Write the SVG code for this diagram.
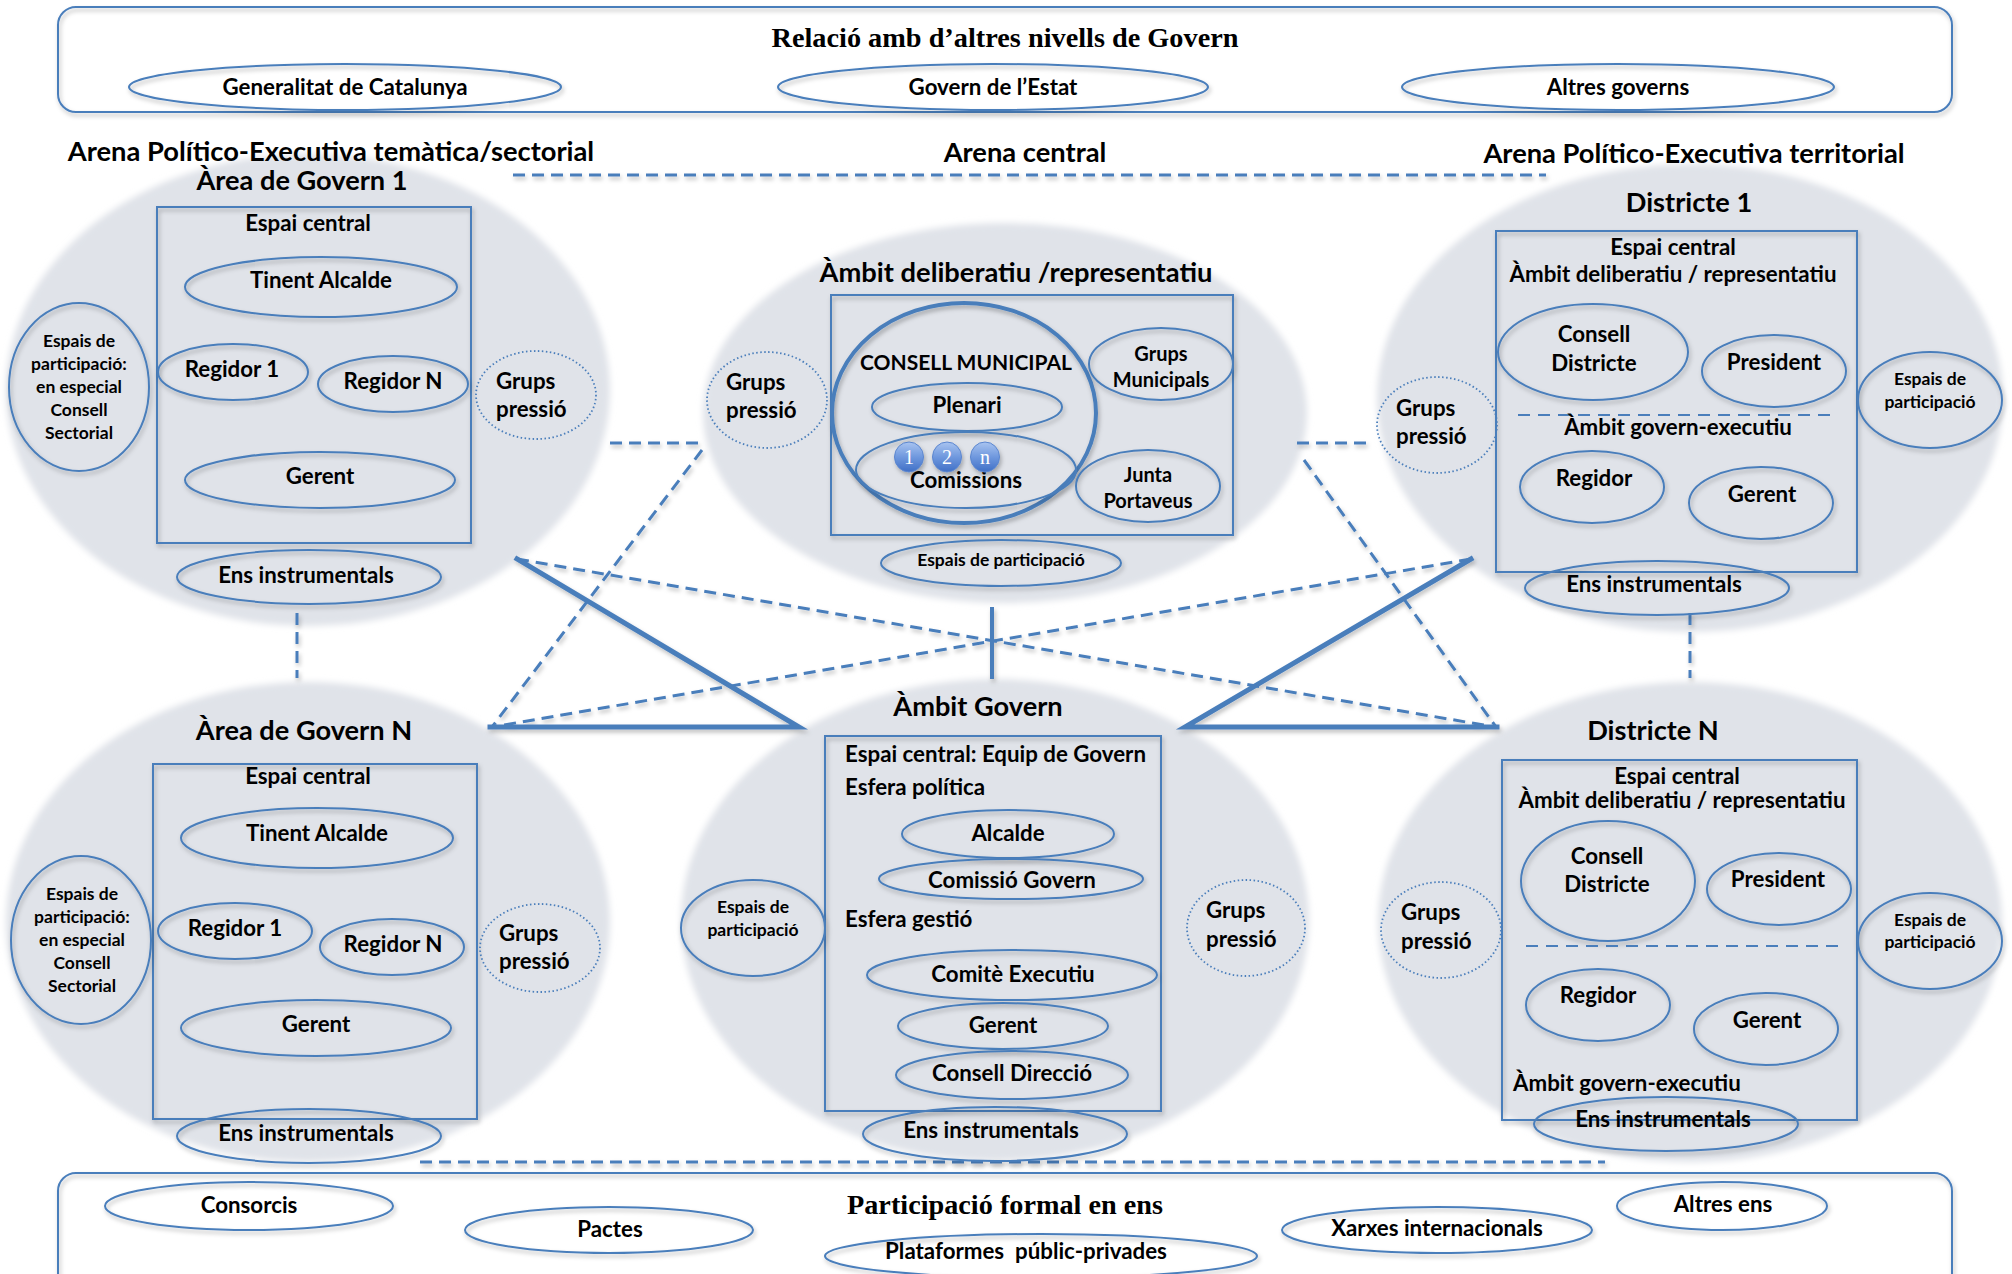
<svg xmlns="http://www.w3.org/2000/svg" width="2012" height="1274" viewBox="0 0 2012 1274">
<defs>
<style>
text{font-family:Lato,'Liberation Sans',sans-serif;font-weight:bold;fill:#000;text-anchor:middle;font-size:22.3px}
.h{font-size:27.2px}
.ha{font-size:27.3px}
.sm{font-size:17.5px}
.md{font-size:20px}
.cmt{font-size:21px}
.lft{text-anchor:start}
.ser{font-family:'Liberation Serif',serif;font-size:27px}
.num{font-family:'Liberation Serif',serif;font-weight:normal;fill:#fff;font-size:20px}
.bg{fill:#e0e3e9;filter:url(#soft)}
.o{fill:none;stroke:#4a7ebb;stroke-width:2;filter:url(#sh)}
.dot{fill:none;stroke:#4a7ebb;stroke-width:1.8;stroke-dasharray:1.5 2.5}
.box{fill:none;stroke:#4a7ebb;stroke-width:2;filter:url(#sh)}
.cm{fill:none;stroke:#4a7ebb;stroke-width:4;filter:url(#sh)}
.dl{stroke:#4a7ebb;stroke-width:2;stroke-dasharray:12 8}
.dash{stroke:#4a7ebb;stroke-width:3;stroke-dasharray:12 7;fill:none}
.thick{stroke:#4a7ebb;stroke-width:5;fill:none;stroke-linecap:square}
</style>
<filter id="sh" x="-10%" y="-15%" width="125%" height="140%">
<feDropShadow dx="1.5" dy="3" stdDeviation="2" flood-color="#000" flood-opacity="0.28"/>
</filter>
<filter id="lsh" filterUnits="userSpaceOnUse" x="0" y="0" width="2012" height="1274">
<feDropShadow dx="1.5" dy="3" stdDeviation="2" flood-color="#000" flood-opacity="0.25"/>
</filter>
<filter id="soft" x="-5%" y="-5%" width="110%" height="110%">
<feGaussianBlur stdDeviation="3"/>
</filter>
<linearGradient id="bub" x1="0" y1="0" x2="0" y2="1">
<stop offset="0" stop-color="#a9c4f0"/>
<stop offset="0.5" stop-color="#6f98de"/>
<stop offset="1" stop-color="#3f6fc6"/>
</linearGradient>
</defs>
<rect width="2012" height="1274" fill="#fff"/>

<!-- background arena circles -->
<g id="arenas">
<ellipse class="bg" cx="308" cy="390" rx="302" ry="236"/>
<ellipse class="bg" cx="1005" cy="413" rx="302" ry="190"/>
<ellipse class="bg" cx="1690" cy="398" rx="313" ry="234"/>
<ellipse class="bg" cx="308" cy="922" rx="302" ry="240"/>
<ellipse class="bg" cx="995" cy="920" rx="314" ry="241"/>
<ellipse class="bg" cx="1690" cy="922" rx="312" ry="240"/>
</g>

<!-- connectors -->
<g id="connectors" filter="url(#lsh)">
<line class="dash" x1="513" y1="175" x2="1546" y2="175"/>
<line class="dash" x1="420" y1="1162" x2="1605" y2="1162"/>
<line class="dash" x1="297" y1="613" x2="297" y2="678"/>
<line class="dash" x1="1690" y1="613" x2="1690" y2="678"/>
<line class="dash" x1="610" y1="443" x2="704" y2="443"/>
<line class="dash" x1="702" y1="450" x2="492" y2="727"/>
<line class="dash" x1="1297" y1="443" x2="1367" y2="443"/>
<line class="dash" x1="1304" y1="460" x2="1496" y2="727"/>
<line class="dash" x1="517" y1="559" x2="1495" y2="727"/>
<line class="dash" x1="1471" y1="559" x2="492" y2="727"/>
<polyline class="thick" points="517,559 799,727 490,727"/>
<polyline class="thick" points="1471,559 1185,727 1497,727"/>
<line stroke="#4a7ebb" stroke-width="4" x1="992" y1="607" x2="992" y2="679"/>
</g>

<!-- top box -->
<g id="relacio">
<rect class="box" x="58" y="7" width="1894" height="105" rx="18"/>
<text class="ser" x="1005" y="47" textLength="467" lengthAdjust="spacingAndGlyphs">Relació amb d’altres nivells de Govern</text>
</g>
<g id="generalitat"><ellipse class="o" cx="345" cy="87" rx="216" ry="23"/><text x="345" y="95">Generalitat de Catalunya</text></g>
<g id="govern-estat"><ellipse class="o" cx="993" cy="87" rx="215" ry="23"/><text x="993" y="95">Govern de l’Estat</text></g>
<g id="altres-governs"><ellipse class="o" cx="1618" cy="87" rx="216" ry="23"/><text x="1618" y="95">Altres governs</text></g>

<!-- headers -->
<g id="headers">
<text class="ha" x="331" y="161">Arena Político-Executiva temàtica/sectorial</text>
<text class="ha" x="1025" y="162">Arena central</text>
<text class="ha" x="1694" y="163">Arena Político-Executiva territorial</text>
</g>

<!-- Area de Govern 1 -->
<g id="area-govern-1">
<text class="h" x="302" y="190">Àrea de Govern 1</text>
<rect class="box" x="157" y="207" width="314" height="336"/>
<text x="308" y="231">Espai central</text>
<ellipse class="o" cx="321" cy="287" rx="136" ry="30"/><text x="321" y="288">Tinent Alcalde</text>
<ellipse class="o" cx="233" cy="372" rx="75" ry="28"/><text x="232" y="377">Regidor 1</text>
<ellipse class="o" cx="393" cy="384" rx="75" ry="28"/><text x="393" y="389">Regidor N</text>
<ellipse class="o" cx="320" cy="480" rx="135" ry="28"/><text x="320" y="484">Gerent</text>
<ellipse class="o" cx="309" cy="577" rx="132" ry="27"/><text x="306" y="583">Ens instrumentals</text>
<ellipse class="dot" cx="536" cy="395" rx="60" ry="44"/><text class="lft" x="496" y="389">Grups</text><text class="lft" x="496" y="417">pressió</text>
<ellipse class="o" cx="79" cy="387" rx="70" ry="84"/>
<text class="sm" x="79" y="347">Espais de</text><text class="sm" x="79" y="370">participació:</text><text class="sm" x="79" y="393">en especial</text><text class="sm" x="79" y="416">Consell</text><text class="sm" x="79" y="439">Sectorial</text>
</g>

<!-- Ambit deliberatiu -->
<g id="ambit-deliberatiu">
<text class="ha" x="1016" y="282">Àmbit deliberatiu /representatiu</text>
<rect class="box" x="831" y="295" width="402" height="240"/>
<ellipse class="cm" cx="964" cy="413" rx="132" ry="110"/>
<text class="cmt" x="966" y="370">CONSELL MUNICIPAL</text>
<ellipse class="o" cx="967" cy="407" rx="95" ry="24"/><text x="967" y="413">Plenari</text>
<ellipse class="o" cx="966" cy="470" rx="110" ry="38"/><text x="966" y="488">Comissions</text>
<g filter="url(#sh)">
<ellipse cx="909" cy="457" rx="14.5" ry="15" fill="url(#bub)" stroke="#5b86cf" stroke-width="1"/>
<ellipse cx="947" cy="457" rx="14.5" ry="15" fill="url(#bub)" stroke="#5b86cf" stroke-width="1"/>
<ellipse cx="985" cy="457" rx="14.5" ry="15" fill="url(#bub)" stroke="#5b86cf" stroke-width="1"/>
</g>
<text class="num" x="909" y="464">1</text><text class="num" x="947" y="464">2</text><text class="num" x="985" y="464">n</text>
<ellipse class="o" cx="1161" cy="364" rx="72" ry="36"/><text class="md" x="1161" y="361">Grups</text><text class="md" x="1161" y="387">Municipals</text>
<ellipse class="o" cx="1148" cy="486" rx="72" ry="36"/><text class="md" x="1148" y="482">Junta</text><text class="md" x="1148" y="508">Portaveus</text>
<ellipse class="dot" cx="767" cy="400" rx="60" ry="48"/><text class="lft" x="726" y="390">Grups</text><text class="lft" x="726" y="418">pressió</text>
<ellipse class="o" cx="1001" cy="563" rx="120" ry="23"/><text class="sm" x="1001" y="566">Espais de participació</text>
</g>

<!-- Districte 1 -->
<g id="districte-1">
<text class="h" x="1689" y="212">Districte 1</text>
<rect class="box" x="1496" y="231" width="361" height="341"/>
<text x="1673" y="255">Espai central</text>
<text x="1673" y="282">Àmbit deliberatiu / representatiu</text>
<ellipse class="o" cx="1593" cy="352" rx="95" ry="48"/><text x="1594" y="342">Consell</text><text x="1594" y="371">Districte</text>
<ellipse class="o" cx="1774" cy="371" rx="72" ry="36"/><text x="1774" y="370">President</text>
<line class="dl" x1="1518" y1="415" x2="1830" y2="415"/>
<text x="1678" y="435">Àmbit govern-executiu</text>
<ellipse class="o" cx="1592" cy="487" rx="72" ry="36"/><text x="1594" y="486">Regidor</text>
<ellipse class="o" cx="1761" cy="503" rx="72" ry="36"/><text x="1762" y="502">Gerent</text>
<ellipse class="o" cx="1657" cy="588" rx="132" ry="27"/><text x="1654" y="592">Ens instrumentals</text>
<ellipse class="dot" cx="1437" cy="425" rx="60" ry="48"/><text class="lft" x="1396" y="416">Grups</text><text class="lft" x="1396" y="444">pressió</text>
<ellipse class="o" cx="1930" cy="400" rx="72" ry="48"/><text class="sm" x="1930" y="385">Espais de</text><text class="sm" x="1930" y="408">participació</text>
</g>

<!-- Area de Govern N -->
<g id="area-govern-n">
<text class="h" x="304" y="740">Àrea de Govern N</text>
<rect class="box" x="153" y="764" width="324" height="355"/>
<text x="308" y="784">Espai central</text>
<ellipse class="o" cx="317" cy="838" rx="136" ry="30"/><text x="317" y="841">Tinent Alcalde</text>
<ellipse class="o" cx="235" cy="931" rx="77" ry="28"/><text x="235" y="936">Regidor 1</text>
<ellipse class="o" cx="392" cy="947" rx="72" ry="28"/><text x="393" y="952">Regidor N</text>
<ellipse class="o" cx="316" cy="1028" rx="135" ry="28"/><text x="316" y="1032">Gerent</text>
<ellipse class="o" cx="309" cy="1136" rx="132" ry="27"/><text x="306" y="1141">Ens instrumentals</text>
<ellipse class="dot" cx="540" cy="948" rx="60" ry="44"/><text class="lft" x="499" y="941">Grups</text><text class="lft" x="499" y="969">pressió</text>
<ellipse class="o" cx="81" cy="940" rx="70" ry="84"/>
<text class="sm" x="82" y="900">Espais de</text><text class="sm" x="82" y="923">participació:</text><text class="sm" x="82" y="946">en especial</text><text class="sm" x="82" y="969">Consell</text><text class="sm" x="82" y="992">Sectorial</text>
</g>

<!-- Ambit Govern -->
<g id="ambit-govern">
<text class="h" x="978" y="716">Àmbit Govern</text>
<rect class="box" x="825" y="736" width="336" height="375"/>
<text class="lft" x="845" y="762">Espai central: Equip de Govern</text>
<text class="lft" x="845" y="795">Esfera política</text>
<ellipse class="o" cx="1008" cy="834" rx="106" ry="24"/><text x="1008" y="841">Alcalde</text>
<ellipse class="o" cx="1011" cy="879" rx="132" ry="20"/><text x="1012" y="888">Comissió Govern</text>
<text class="lft" x="845" y="927">Esfera gestió</text>
<ellipse class="o" cx="1012" cy="975" rx="145" ry="25"/><text x="1013" y="982">Comitè Executiu</text>
<ellipse class="o" cx="1003" cy="1026" rx="105" ry="23"/><text x="1003" y="1033">Gerent</text>
<ellipse class="o" cx="1012" cy="1075" rx="116" ry="24"/><text x="1012" y="1081">Consell Direcció</text>
<ellipse class="o" cx="995" cy="1134" rx="132" ry="27"/><text x="991" y="1138">Ens instrumentals</text>
<ellipse class="o" cx="753" cy="928" rx="72" ry="48"/><text class="sm" x="753" y="913">Espais de</text><text class="sm" x="753" y="936">participació</text>
<ellipse class="dot" cx="1246" cy="928" rx="59" ry="48"/><text class="lft" x="1206" y="918">Grups</text><text class="lft" x="1206" y="947">pressió</text>
</g>

<!-- Districte N -->
<g id="districte-n">
<text class="h" x="1653" y="740">Districte N</text>
<rect class="box" x="1502" y="760" width="355" height="360"/>
<text x="1677" y="784">Espai central</text>
<text x="1682" y="808">Àmbit deliberatiu / representatiu</text>
<ellipse class="o" cx="1608" cy="881" rx="87" ry="60"/><text x="1607" y="864">Consell</text><text x="1607" y="892">Districte</text>
<ellipse class="o" cx="1779" cy="889" rx="72" ry="36"/><text x="1778" y="887">President</text>
<line class="dl" x1="1526" y1="946" x2="1839" y2="946"/>
<ellipse class="o" cx="1598" cy="1005" rx="72" ry="36"/><text x="1598" y="1003">Regidor</text>
<ellipse class="o" cx="1766" cy="1029" rx="72" ry="36"/><text x="1767" y="1028">Gerent</text>
<text class="lft" x="1513" y="1091">Àmbit govern-executiu</text>
<ellipse class="o" cx="1666" cy="1124" rx="132" ry="27"/><text x="1663" y="1127">Ens instrumentals</text>
<ellipse class="dot" cx="1441" cy="930" rx="60" ry="48"/><text class="lft" x="1401" y="920">Grups</text><text class="lft" x="1401" y="949">pressió</text>
<ellipse class="o" cx="1930" cy="941" rx="72" ry="48"/><text class="sm" x="1930" y="926">Espais de</text><text class="sm" x="1930" y="948">participació</text>
</g>

<!-- bottom box -->
<g id="participacio-formal">
<rect class="box" x="58" y="1173" width="1894" height="140" rx="18"/>
<text class="ser" x="1005" y="1214" textLength="316" lengthAdjust="spacingAndGlyphs">Participació formal en ens</text>
</g>
<g id="consorcis"><ellipse class="o" cx="249" cy="1206" rx="144" ry="24"/><text x="249" y="1213">Consorcis</text></g>
<g id="pactes"><ellipse class="o" cx="609" cy="1230" rx="144" ry="23"/><text x="610" y="1237">Pactes</text></g>
<g id="plataformes"><ellipse class="o" cx="1041" cy="1256" rx="216" ry="22"/><text x="1026" y="1259">Plataformes&#160; públic-privades</text></g>
<g id="xarxes"><ellipse class="o" cx="1437" cy="1230" rx="155" ry="23"/><text x="1437" y="1236">Xarxes internacionals</text></g>
<g id="altres-ens"><ellipse class="o" cx="1722" cy="1206" rx="105" ry="24"/><text x="1723" y="1212">Altres ens</text></g>
</svg>
